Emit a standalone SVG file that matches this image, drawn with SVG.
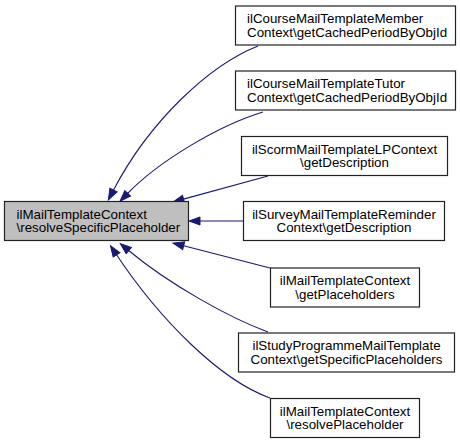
<svg xmlns="http://www.w3.org/2000/svg" width="460" height="444" viewBox="0 0 460 444">
<style>
.node rect{fill:#ffffff;stroke:#222222;stroke-width:1.2}
.node.main rect{fill:#bfbfbf}
.node text{font-family:"Liberation Sans",Arial,Helvetica,sans-serif;font-size:13.33px;fill:#000000}
.c{text-anchor:middle}
.l{text-anchor:start}
.edges path{fill:none;stroke:#191970;stroke-width:1.1}
</style>
<defs>
<marker id="arr" markerUnits="userSpaceOnUse" viewBox="0 -5 12 10" refX="1" refY="0" markerWidth="12" markerHeight="10" orient="auto" overflow="visible">
<path d="M0,-4 L11,0 L0,4 Z" fill="#191970" stroke="#191970" stroke-width="1"/>
</marker>
</defs>
<rect width="460" height="444" fill="#ffffff"/>
<g class="edges">
<path d="M258,46 C210,65 150,120 113,191" marker-end="url(#arr)"/>
<path d="M263,112 C220,125 160,160 127,194" marker-end="url(#arr)"/>
<path d="M268,176 L182.6,199.4" marker-end="url(#arr)"/>
<path d="M243,221 L199,221" marker-end="url(#arr)"/>
<path d="M270,268 L182.7,245.5" marker-end="url(#arr)"/>
<path d="M268,332 C230,318 170,285 128,250" marker-end="url(#arr)"/>
<path d="M270,398 C220,380 160,320 116,254" marker-end="url(#arr)"/>
</g>
<g id="main" class="node main">
<rect x="4.5" y="201.5" width="184" height="39"/>
<text class="l" x="16.5" y="218.5">ilMailTemplateContext</text>
<text class="l" x="16.5" y="232">\resolveSpecificPlaceholder</text>
</g>
<g id="n1" class="node">
<rect x="235.5" y="6" width="220" height="39"/>
<text class="l" x="247" y="23">ilCourseMailTemplateMember</text>
<text class="l" x="247" y="36.5">Context\getCachedPeriodByObjId</text>
</g>
<g id="n2" class="node">
<rect x="235.5" y="71" width="220" height="39"/>
<text class="l" x="247" y="88">ilCourseMailTemplateTutor</text>
<text class="l" x="247" y="101.5">Context\getCachedPeriodByObjId</text>
</g>
<g id="n3" class="node">
<rect x="241.5" y="136.5" width="206" height="39"/>
<text class="c" x="344.5" y="153.5">ilScormMailTemplateLPContext</text>
<text class="c" x="344.5" y="167">\getDescription</text>
</g>
<g id="n4" class="node">
<rect x="243.5" y="201.5" width="201" height="39"/>
<text class="c" x="344" y="218.5">ilSurveyMailTemplateReminder</text>
<text class="c" x="344" y="232">Context\getDescription</text>
</g>
<g id="n5" class="node">
<rect x="270.5" y="268" width="149" height="39"/>
<text class="c" x="345" y="285">ilMailTemplateContext</text>
<text class="c" x="345" y="298.5">\getPlaceholders</text>
</g>
<g id="n6" class="node">
<rect x="238.5" y="333" width="216" height="39"/>
<text class="c" x="346.5" y="350">ilStudyProgrammeMailTemplate</text>
<text class="c" x="346.5" y="363.5">Context\getSpecificPlaceholders</text>
</g>
<g id="n7" class="node">
<rect x="270.5" y="398.5" width="149" height="39"/>
<text class="c" x="345" y="415.5">ilMailTemplateContext</text>
<text class="c" x="345" y="429">\resolvePlaceholder</text>
</g>
</svg>
